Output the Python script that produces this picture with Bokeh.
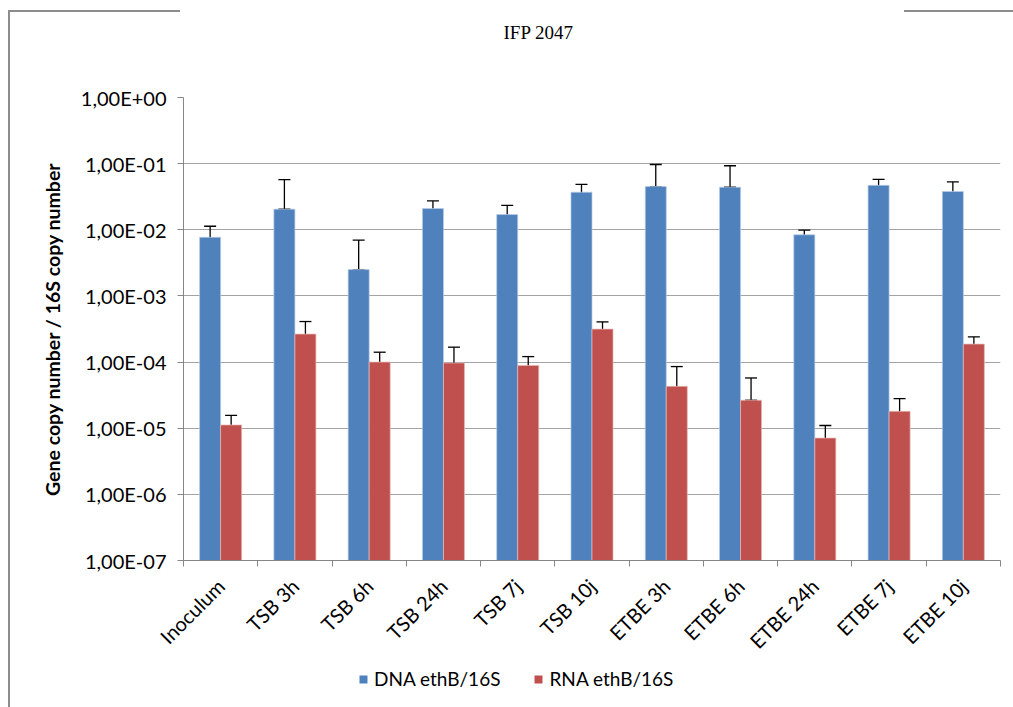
from math import pi

from bokeh.embed import file_html
from bokeh.resources import INLINE
from bokeh.layouts import column
from bokeh.plotting import figure
from bokeh.models import (ColumnDataSource, Range1d, FixedTicker, LogAxis, LinearAxis, LogScale,
                          CustomJSTickFormatter, Whisker, TeeHead, Legend, LegendItem, Grid, Title)

# ---- data -------------------------------------------------------------
categories = ["Inoculum", "TSB 3h", "TSB 6h", "TSB 24h", "TSB 7j", "TSB 10j",
              "ETBE 3h", "ETBE 6h", "ETBE 24h", "ETBE 7j", "ETBE 10j"]
dna_ratio = [7.7e-3, 2.05e-2, 2.5e-3, 2.1e-2, 1.7e-2, 3.7e-2,
             4.5e-2, 4.4e-2, 8.4e-3, 4.7e-2, 3.8e-2]
dna_err = [3.6e-3, 3.7e-2, 4.5e-3, 6.3e-3, 6.4e-3, 1.15e-2,
           5.2e-2, 4.9e-2, 1.5e-3, 1.1e-2, 1.5e-2]
rna_ratio = [1.12e-5, 2.65e-4, 1.0e-4, 9.7e-5, 8.9e-5, 3.15e-4,
             4.3e-5, 2.65e-5, 7.1e-6, 1.8e-5, 1.87e-4]
rna_err = [4.4e-6, 1.45e-4, 4.1e-5, 7.1e-5, 3.2e-5, 9.0e-5,
           4.25e-5, 3.1e-5, 3.9e-6, 1.0e-5, 5.4e-5]
series_names = ["DNA ethB/16S", "RNA ethB/16S"]
y_exponents = [-7, -6, -5, -4, -3, -2, -1, 0]
y_tick_labels = ["1,00E-07", "1,00E-06", "1,00E-05", "1,00E-04",
                 "1,00E-03", "1,00E-02", "1,00E-01", "1,00E+00"]
title_text = "IFP 2047"
y_title = "Gene copy number / 16S copy number"

# ---- styling ----------------------------------------------------------
BLUE = "#4F81BD"
RED = "#C0504D"
GREY = "#868686"
FRAME_GREY = "#8c8c8c"
FONT = "Lato"
Y_MIN, Y_MAX = 1e-7, 1.0
BAR_W = 0.283
MAIN_H, LEGEND_H = 664, 43
FRAME_LEFT = 183

n = len(categories)
centers = [i + 0.5 for i in range(n)]


def series_source(vals, errs, shift):
    lower = [v - e if v - e > 0 else v for v, e in zip(vals, errs)]
    upper = [v + e for v, e in zip(vals, errs)]
    return ColumnDataSource(dict(x=[c + shift for c in centers], top=vals,
                                 lower=lower, upper=upper))


def grey_bar(x, y, w, h):
    return f"linear-gradient({FRAME_GREY},{FRAME_GREY}) {x}px {y}px / {w}px {h}px no-repeat"


dna_src = series_source(dna_ratio, dna_err, -BAR_W / 2)
rna_src = series_source(rna_ratio, rna_err, BAR_W / 2)

p = figure(width=1013, height=MAIN_H, y_axis_type=None, x_axis_type=None,
           x_range=Range1d(0, n), y_range=Range1d(Y_MIN, Y_MAX),
           output_backend="svg", toolbar_location=None,
           min_border_left=FRAME_LEFT, min_border_right=13,
           min_border_top=97, min_border_bottom=MAIN_H - 561)
p.y_scale = LogScale()
p.outline_line_color = None
p.border_fill_color = None
p.background_fill_color = "white"
p.styles = {"background": ", ".join([grey_bar(8, 10, 172, 2), grey_bar(904, 10, 109, 2),
                                     grey_bar(8, 10, 2, MAIN_H)]) + ", #ffffff"}

# title, lifted away from the plot area by a blank spacer row
p.title.text = title_text
p.title.text_font = "Liberation Serif"
p.title.text_font_style = "normal"
p.title.text_font_size = "19px"
p.title.text_color = "black"
p.title.align = "left"
p.title.offset = 320
p.title.standoff = 10
p.add_layout(Title(text=" ", text_font_size="19px", standoff=27), "above")

# y axis (log decades)
y_ticks = [10.0 ** e for e in y_exponents]
label_map = {str(e): lab for e, lab in zip(y_exponents, y_tick_labels)}
yaxis = LogAxis(ticker=FixedTicker(ticks=y_ticks, minor_ticks=[]),
                formatter=CustomJSTickFormatter(args=dict(labels=label_map), code="""
                    const e = Math.round(Math.log10(tick));
                    return labels[String(e)];
                """))
yaxis.axis_line_color = GREY
yaxis.major_tick_line_color = GREY
yaxis.major_tick_out = 6
yaxis.major_tick_in = 0
yaxis.minor_tick_line_color = None
yaxis.major_label_text_font = FONT
yaxis.major_label_text_font_size = "20px"
yaxis.major_label_text_color = "black"
yaxis.major_label_standoff = 11
yaxis.axis_label = y_title
yaxis.axis_label_text_font = FONT
yaxis.axis_label_text_font_style = "bold"
yaxis.axis_label_text_font_size = "19.5px"
yaxis.axis_label_text_color = "black"
yaxis.axis_label_standoff = 14
p.add_layout(yaxis, "left")

# x axis: labels centred on categories, tick marks on category boundaries
xaxis = LinearAxis(ticker=FixedTicker(ticks=centers, minor_ticks=list(range(n + 1))))
xaxis.major_label_overrides = {c: name for c, name in zip(centers, categories)}
xaxis.major_label_orientation = pi / 4
xaxis.major_label_text_font = FONT
xaxis.major_label_text_font_size = "20px"
xaxis.major_label_text_color = "black"
xaxis.major_label_standoff = 16
xaxis.major_tick_line_color = None
xaxis.major_tick_out = 6
xaxis.major_tick_in = 0
xaxis.minor_tick_line_color = GREY
xaxis.minor_tick_out = 6
xaxis.minor_tick_in = 0
xaxis.axis_line_color = GREY
p.add_layout(xaxis, "below")

# horizontal gridlines at each decade
p.add_layout(Grid(dimension=1, ticker=FixedTicker(ticks=y_ticks),
                  grid_line_color="#a3a3a3", grid_line_width=1.2))

# bars
bar_style = dict(bottom=Y_MIN, width=BAR_W, line_width=1, line_alpha=0.7)
p.vbar(x="x", top="top", source=dna_src, fill_color=BLUE, line_color="#b8cce4", **bar_style)
p.vbar(x="x", top="top", source=rna_src, fill_color=RED, line_color="#e6b9b8", **bar_style)

# error bars
for src in (dna_src, rna_src):
    p.add_layout(Whisker(source=src, base="x", upper="upper", lower="lower",
                         line_color="black", line_width=1.3,
                         upper_head=TeeHead(size=12, line_color="black", line_width=1.3),
                         lower_head=TeeHead(size=12, line_color="black", line_width=1.3)))

# legend strip under the chart (its plot area lines up with the chart's)
lg = figure(width=1013, height=LEGEND_H, x_range=Range1d(0, 1), y_range=Range1d(0, 1),
            output_backend="svg", toolbar_location=None,
            min_border=0, x_axis_type=None, y_axis_type=None)
lg.outline_line_color = None
lg.border_fill_color = None
lg.background_fill_color = None
lg.xgrid.visible = False
lg.ygrid.visible = False
lg.styles = {"background": grey_bar(8, 0, 2, LEGEND_H) + ", #ffffff"}
# zero-height swatch renderers: only their legend keys are visible
k_dna = lg.vbar(x=[0.5], top=[0], bottom=0, width=0.1, fill_color=BLUE, line_color=None)
k_rna = lg.vbar(x=[0.5], top=[0], bottom=0, width=0.1, fill_color=RED, line_color=None)

legend = Legend(items=[LegendItem(label=series_names[0], renderers=[k_dna]),
                       LegendItem(label=series_names[1], renderers=[k_rna])],
                orientation="horizontal", location=(358 - FRAME_LEFT, 17))
legend.label_text_font = FONT
legend.label_text_font_size = "19px"
legend.label_text_color = "black"
legend.glyph_width = 10
legend.glyph_height = 10
legend.label_standoff = 6
legend.spacing = 33
legend.border_line_color = None
legend.background_fill_alpha = 0
legend.margin = 0
legend.padding = 4
lg.add_layout(legend, "center")

open("out.html", "w").write(file_html(column(p, lg, spacing=0), INLINE))
